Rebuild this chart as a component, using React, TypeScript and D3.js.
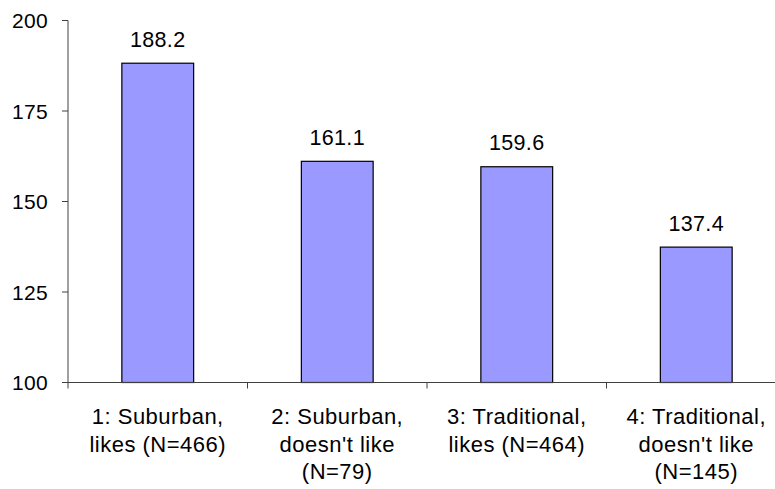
import React from "react";
import * as d3 from "d3";

const categories: string[][] = [
  ["1: Suburban,", "likes (N=466)"],
  ["2: Suburban,", "doesn't like", "(N=79)"],
  ["3: Traditional,", "likes (N=464)"],
  ["4: Traditional,", "doesn't like", "(N=145)"],
];
const values: number[] = [188.2, 161.1, 159.6, 137.4];
const yTicks: number[] = [100, 125, 150, 175, 200];

const W = 775;
const H = 489;
const left = 68;
const right = 786;
const top = 20.5;
const bottom = 382.5;
const font = "Liberation Sans, Arial, sans-serif";

export default function App() {
  const x = d3
    .scaleBand<number>()
    .domain(values.map((_, i) => i))
    .range([left, right])
    .paddingInner(0.6)
    .paddingOuter(0.3);
  const y = d3.scaleLinear().domain([100, 200]).range([bottom, top]);
  const step = x.step();
  const bounds = d3.range(values.length + 1).map((i) => left + i * step);

  return (
    <svg
      width={W}
      height={H}
      style={{ position: "absolute", left: 0, top: 0 }}
      fontFamily={font}
    >
      <rect width={W} height={H} fill="#fff" />
      {values.map((v, i) => (
        <g key={i}>
          <rect
            x={x(i)!}
            y={y(v)}
            width={x.bandwidth()}
            height={y(100) - y(v)}
            fill="#9999ff"
            stroke="#000"
            strokeWidth={1.2}
          />
          <text
            x={x(i)! + x.bandwidth() / 2}
            y={y(v) - 16.6}
            textAnchor="middle"
            fontSize={21.5}
            letterSpacing={0.3}
            fill="#000"
          >
            {v.toFixed(1)}
          </text>
        </g>
      ))}
      {/* y axis */}
      <line x1={left} x2={left} y1={top} y2={bottom} stroke="#404040" strokeWidth={1} />
      {yTicks.map((t) => (
        <g key={t}>
          <line x1={left - 6} x2={left} y1={y(t)} y2={y(t)} stroke="#404040" strokeWidth={1} />
          <text
            x={left - 20}
            y={y(t)}
            dy="0.36em"
            textAnchor="end"
            fontSize={21}
            letterSpacing={0.3}
            fill="#000"
          >
            {t}
          </text>
        </g>
      ))}
      {/* x axis */}
      <line x1={left} x2={right} y1={bottom} y2={bottom} stroke="#404040" strokeWidth={1} />
      {bounds.map((b, i) => (
        <line key={i} x1={b} x2={b} y1={bottom} y2={bottom + 6} stroke="#404040" strokeWidth={1} />
      ))}
      {categories.map((lines, i) => (
        <text key={i} textAnchor="middle" fontSize={22} letterSpacing={0.5} fill="#000">
          {lines.map((l, j) => (
            <tspan key={j} x={x(i)! + x.bandwidth() / 2} y={424.3 + j * 27.5}>
              {l}
            </tspan>
          ))}
        </text>
      ))}
    </svg>
  );
}
